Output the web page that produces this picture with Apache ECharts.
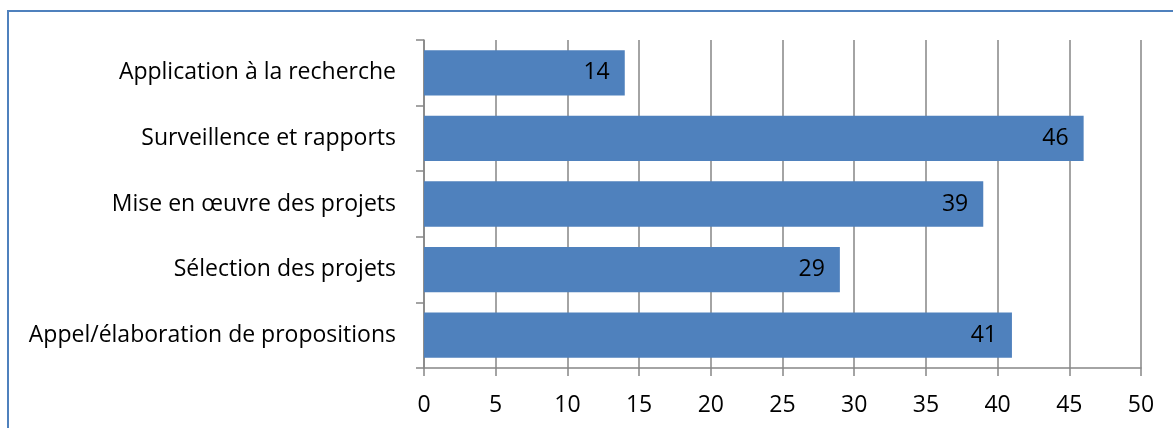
<!DOCTYPE html>
<html><head><meta charset="utf-8">
<script src="https://cdn.jsdelivr.net/npm/echarts@6/dist/echarts.min.js"></script>
<style>html,body{margin:0;padding:0;background:#fff}#c{width:1173px;height:428px}</style>
</head><body><div id="c"></div>
<script>
const categories = ["Application à la recherche","Surveillence et rapports","Mise en œuvre des projets","Sélection des projets","Appel/élaboration de propositions"];
const values = [14,46,39,29,41];
const xTicks = {min:0,max:50,interval:5};
const chart = echarts.init(document.getElementById('c'));
const font = "'Open Sans', 'Noto Sans', sans-serif";
chart.setOption({
  animation:false,
  grid:{left:424,right:32,top:40,bottom:60,containLabel:false},
  graphic:[{type:'rect',shape:{x:8,y:11,width:1300,height:600},style:{fill:'none',stroke:'#4F81BD',lineWidth:2},silent:true}],
  xAxis:{type:'value',min:xTicks.min,max:xTicks.max,interval:xTicks.interval,
    axisLine:{show:true,lineStyle:{color:'#868686',width:1.5}},
    axisTick:{show:true,length:8,lineStyle:{color:'#868686',width:1.5}},
    splitLine:{show:true,lineStyle:{color:'#868686',width:1.5}},
    axisLabel:{color:'#000',fontSize:23,fontFamily:font,margin:26}},
  yAxis:{type:'category',data:categories,inverse:true,
    axisLine:{show:true,lineStyle:{color:'#868686',width:1.5}},
    axisTick:{show:true,length:8,alignWithLabel:false,lineStyle:{color:'#868686',width:1.5}},
    axisLabel:{color:'#000',fontSize:23,fontFamily:font,margin:28}},
  series:[{type:'bar',data:values,barCategoryGap:'31%',
    itemStyle:{color:'#4F81BD'},
    label:{show:true,position:'insideRight',distance:15,color:'#000',fontSize:23,fontFamily:font}}]
});
</script></body></html>
